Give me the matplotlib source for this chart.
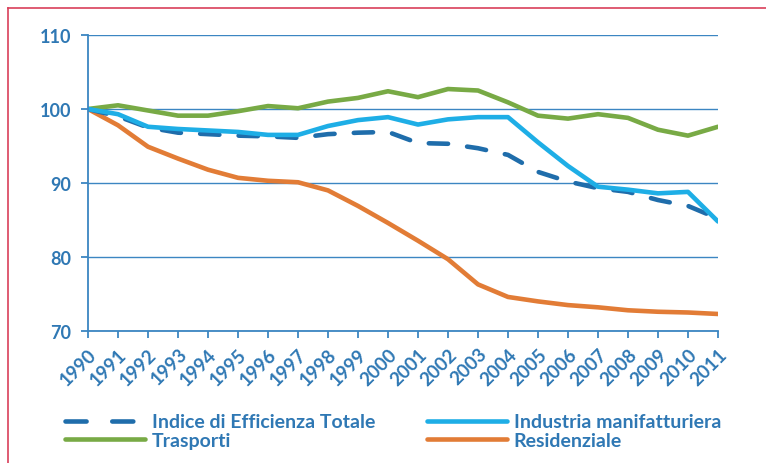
import matplotlib
matplotlib.use('Agg')
import matplotlib.pyplot as plt
from matplotlib.lines import Line2D

plt.rcParams['font.family'] = ['Lato', 'DejaVu Sans']

years = list(range(1990, 2012))
totale = [100, 99.0, 97.5, 96.8, 96.6, 96.4, 96.3, 96.1, 96.6, 96.8, 96.9,
          95.4, 95.3, 94.7, 93.8, 91.5, 90.2, 89.3, 88.8, 87.7, 86.9, 85.2]
industria = [100, 99.3, 97.6, 97.3, 97.1, 96.9, 96.5, 96.5, 97.7, 98.5, 98.9,
             97.9, 98.6, 98.9, 98.9, 95.5, 92.3, 89.5, 89.1, 88.6, 88.8, 84.8]
trasporti = [100, 100.5, 99.8, 99.1, 99.1, 99.7, 100.4, 100.1, 101.0, 101.5, 102.4,
             101.6, 102.7, 102.5, 100.9, 99.1, 98.7, 99.3, 98.8, 97.2, 96.4, 97.6]
residenziale = [100, 97.8, 94.9, 93.3, 91.8, 90.7, 90.3, 90.1, 89.0, 86.9, 84.6,
                82.2, 79.7, 76.3, 74.6, 74.0, 73.5, 73.2, 72.8, 72.6, 72.5, 72.3]

c_axis = '#3c86c2'
c_text = '#2f78b4'
c_tot = '#1f6dab'
c_ind = '#1eaee6'
c_tra = '#78aa45'
c_res = '#e27c36'

fig = plt.figure(figsize=(7.66, 4.64), dpi=100)
ax = fig.add_axes([0.1149, 0.2845, 0.8224, 0.6379])

lw = 3.3
l_tra, = ax.plot(years, trasporti, color=c_tra, lw=lw, solid_capstyle='round', solid_joinstyle='round')
l_res, = ax.plot(years, residenziale, color=c_res, lw=lw, solid_capstyle='round', solid_joinstyle='round')
l_tot, = ax.plot(years, totale, color=c_tot, lw=lw, dashes=(4.2, 4.2), dash_capstyle='round')
l_ind, = ax.plot(years, industria, color=c_ind, lw=lw, solid_capstyle='round', solid_joinstyle='round')

ax.set_xlim(1990, 2011)
ax.set_ylim(70, 110)
ax.set_yticks([70, 80, 90, 100, 110])
ax.set_xticks(years)
ax.set_xticklabels([str(y) for y in years], rotation=45, ha='right', va='top',
                   rotation_mode='anchor')
ax.grid(axis='y', color=c_axis, lw=1.0)
ax.set_axisbelow(True)
for s in ['top', 'right']:
    ax.spines[s].set_visible(False)
for s in ['left', 'bottom']:
    ax.spines[s].set_color(c_axis)
    ax.spines[s].set_linewidth(1.3)
ax.tick_params(axis='both', colors=c_axis, width=1.3, length=5, direction='out')
ax.tick_params(axis='x', labelsize=13.5, labelcolor=c_text, pad=5)
ax.tick_params(axis='y', labelsize=13, labelcolor=c_text, pad=7)
for t in ax.get_xticklabels() + ax.get_yticklabels():
    t.set_fontweight('bold')

leg_kw = dict(frameon=False, handlelength=4.1, handletextpad=0.36, labelspacing=0.1,
              borderpad=0, borderaxespad=0, loc='upper left', labelcolor=c_text,
              prop={'size': 14, 'weight': 'bold'})
h_tot = Line2D([], [], color=c_tot, lw=lw, dashes=(4.6, 5.6), dash_capstyle='round')
leg1 = fig.legend([h_tot, l_tra], ['Indice di Efficienza Totale', 'Trasporti'],
                  bbox_to_anchor=(0.0849, 0.107), **leg_kw)
leg2 = fig.legend([l_ind, l_res], ['Industria manifatturiera', 'Residenziale'],
                  bbox_to_anchor=(0.5574, 0.107), **leg_kw)

# red frame, top and left edges
fig.add_artist(Line2D([0.0105, 1.0], [0.981, 0.981], color='#d9405a', lw=1.2, transform=fig.transFigure))
fig.add_artist(Line2D([0.0105, 0.0105], [0.0, 0.981], color='#d9405a', lw=1.2, transform=fig.transFigure))

fig.savefig('out.png', dpi=100)
